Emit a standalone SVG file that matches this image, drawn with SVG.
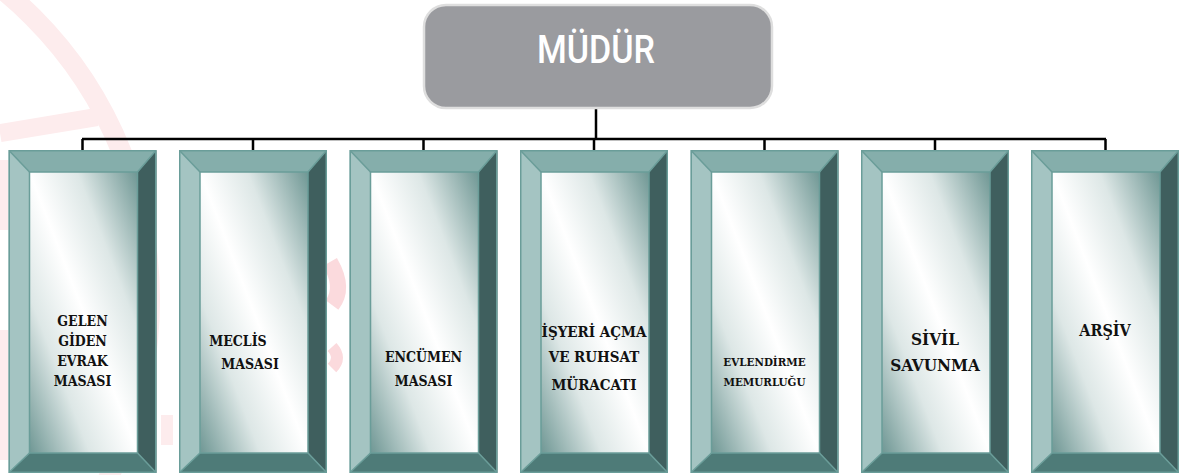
<svg xmlns="http://www.w3.org/2000/svg" width="1179" height="475" viewBox="0 0 1179 475">
<defs>
<linearGradient id="inner" x1="1" y1="0" x2="0" y2="1">
<stop offset="0" stop-color="#6f9794"/>
<stop offset="0.28" stop-color="#dde7e6"/>
<stop offset="0.5" stop-color="#ffffff"/>
<stop offset="0.72" stop-color="#dde7e6"/>
<stop offset="1" stop-color="#6f9794"/>
</linearGradient>
<g id="frame">
<polygon points="0,0 148,0 129,22 21,22" fill="#85aeab"/>
<polygon points="0,0 21,22 21,303 0,323" fill="#a4c4c2"/>
<polygon points="148,0 148,323 129,303 129,22" fill="#3f5f5e"/>
<polygon points="0,323 21,303 129,303 148,323" fill="#4e7b78"/>
<rect x="21" y="22" width="108" height="281" fill="url(#inner)"/>
<g fill="none" stroke="#6a9d99" stroke-width="1.5">
<rect x="0.75" y="0.75" width="146.5" height="321.5"/>
<rect x="21" y="22" width="108" height="281"/>
<path d="M1,1 L21,22 M147,1 L129,22 M1,322 L21,303 M147,322 L129,303"/>
</g>
</g>
</defs>
<style>
.lbl{font-family:"DejaVu Serif","Liberation Serif",serif;font-stretch:condensed;font-weight:bold;fill:#111;text-anchor:middle}
.conn{stroke:#000;stroke-width:2.5;fill:none}
</style>
<rect width="1179" height="475" fill="#ffffff"/>
<g id="watermark" fill="none" stroke="#fdeced">
<circle cx="-250" cy="300" r="400" stroke-width="20"/>
<path d="M0,133 L97,117" stroke-width="18"/>
<path d="M4,160 L4,230 M4,330 L4,460" stroke-width="9"/>
<path d="M330,262 Q345,288 332,305" stroke-width="16" stroke="#fbdadd"/>
<path d="M332,347 Q342,358 332,368" stroke-width="12" stroke="#fbdadd"/>
<path d="M167,415 L167,445" stroke-width="12"/>
</g>
<g id="connectors" class="conn">
<path d="M596,109 V139"/>
<path d="M82,139 H1106"/>
<path d="M82.5,139 V151 M253,139 V151 M423.5,139 V151 M594,139 V151 M764.5,139 V151 M935,139 V151 M1105.5,139 V151"/>
</g>
<g id="mudur">
<rect x="424" y="5" width="348" height="103" rx="22" fill="#9a9b9f" stroke="#dedede" stroke-width="2.5"/>
<text x="596" y="63" font-family="Roboto,'DejaVu Sans',sans-serif" font-weight="500" font-size="38" fill="#ffffff" text-anchor="middle" textLength="118" lengthAdjust="spacingAndGlyphs">MÜDÜR</text>
</g>
<g id="n1"><use href="#frame" x="8.5" y="150"/>
<text class="lbl" font-size="14"><tspan x="82.5" y="326">GELEN</tspan><tspan x="82.5" y="346">GİDEN</tspan><tspan x="82.5" y="366">EVRAK</tspan><tspan x="82.5" y="386">MASASI</tspan></text></g>
<g id="n2"><use href="#frame" x="179" y="150"/>
<text class="lbl" font-size="14"><tspan x="238" y="346">MECLİS</tspan><tspan x="250" y="369">MASASI</tspan></text></g>
<g id="n3"><use href="#frame" x="349.5" y="150"/>
<text class="lbl" font-size="14"><tspan x="423.5" y="362">ENCÜMEN</tspan><tspan x="423.5" y="386">MASASI</tspan></text></g>
<g id="n4"><use href="#frame" x="520" y="150"/>
<text class="lbl" font-size="15"><tspan x="594" y="337">İŞYERİ AÇMA</tspan><tspan x="594" y="362">VE RUHSAT</tspan><tspan x="594" y="390">MÜRACATI</tspan></text></g>
<g id="n5"><use href="#frame" x="690.5" y="150"/>
<text class="lbl" font-size="11.5"><tspan x="764.5" y="366">EVLENDİRME</tspan><tspan x="764.5" y="386">MEMURLUĞU</tspan></text></g>
<g id="n6"><use href="#frame" x="861" y="150"/>
<text class="lbl" font-size="17"><tspan x="935" y="345">SİVİL</tspan><tspan x="935" y="371">SAVUNMA</tspan></text></g>
<g id="n7"><use href="#frame" x="1031" y="150"/>
<text class="lbl" font-size="16"><tspan x="1105" y="336">ARŞİV</tspan></text></g>
</svg>
